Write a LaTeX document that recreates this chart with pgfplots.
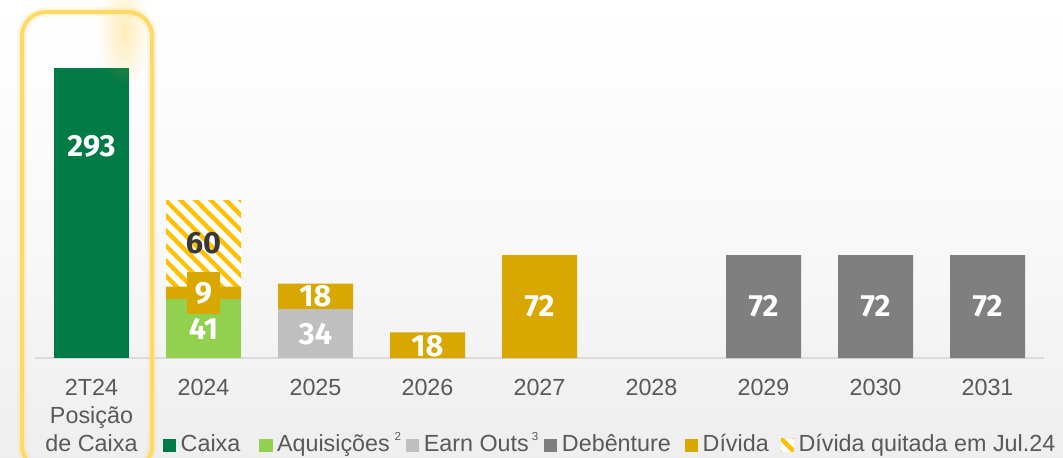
\documentclass[border=0pt]{standalone}
\usepackage{pgfplots}
\pgfplotsset{compat=1.18}
\usepackage{pgfplotstable}
\usepackage{fontspec}
\setmainfont{Liberation Sans}
\newfontfamily\valfont{Fira Sans}
\usetikzlibrary{patterns.meta,fadings}

\definecolor{caixa}{HTML}{007A47}
\definecolor{aquis}{HTML}{92D050}
\definecolor{earn}{HTML}{BFBFBF}
\definecolor{deb}{HTML}{7F7F7F}
\definecolor{divida}{HTML}{D9A800}
\definecolor{hatch}{HTML}{FFC000}
\definecolor{txt}{HTML}{595959}
\definecolor{moldura}{HTML}{FFD966}

\tikzfading[name=brilho, inner color=transparent!0, outer color=transparent!100]

% barra de caixa (293) aparece truncada no original: altura visual ~203
\pgfplotstableread{
x caixa aquis earn deb div quit
0 203 0 0 0 0 0
1 0 41 0 0 9 60
2 0 0 34 0 18 0
3 0 0 0 0 18 0
4 0 0 0 0 72 0
5 0 0 0 0 0 0
6 0 0 0 72 0 0
7 0 0 0 72 0 0
8 0 0 0 72 0 0
}\dados

\newcommand\nota[1]{\raisebox{8.8pt}{\fontsize{8.7}{9}\selectfont #1}}

\begin{document}
\begin{tikzpicture}
\clip (-68.625pt,-74.25pt) rectangle (728.625pt,268.5pt);
\shade[top color=white, bottom color=gray!13, middle color=gray!5]
  (-68.625pt,-74.25pt) rectangle (728.625pt,268.5pt);

\begin{axis}[
  anchor=origin,
  x=84pt, y=1.0725pt,
  xmin=-0.5, xmax=8.5,
  ymin=0, ymax=250,
  ybar stacked, bar width=56.25pt,
  axis x line*=bottom,
  hide y axis,
  x axis line style={draw=gray!28, line width=1.5pt},
  xtick={0,...,8},
  xticklabels={{2T24\\Posição\\de Caixa},2024,2025,2026,2027,2028,2029,2030,2031},
  xticklabel style={align=center, anchor=north, inner sep=0pt, yshift=-16pt,
    font=\fontsize{17.5}{21}\selectfont, text=txt},
  major tick length=0pt,
  clip=false,
  legend columns=-1,
  legend image code/.code={\fill[#1] (0pt,-4.5pt) rectangle (9.9pt,5.5pt);},
  legend style={at={(axis description cs:0.1262,-0.246)}, anchor=west,
    draw=none, fill=none, inner sep=0pt,
    font=\fontsize{17.5}{21}\selectfont, text=txt,
    nodes={inner xsep=0pt, inner ysep=0pt, text height=13pt, text depth=4pt},
    /tikz/every odd column/.append style={column sep=3.4pt},
    /tikz/every even column/.append style={column sep=0pt}},
]
\addplot[fill=caixa, draw=none] table[x=x, y=caixa]{\dados};
\addlegendentry{Caixa\hspace*{14.2pt}}
\addplot[fill=aquis, draw=none] table[x=x, y=aquis]{\dados};
\addlegendentry{Aquisições\hspace*{3.5pt}\nota{2}\hspace*{3.8pt}}
\addplot[fill=earn, draw=none] table[x=x, y=earn]{\dados};
\addlegendentry{Earn Outs\hspace*{2.2pt}\nota{3}\hspace*{4.5pt}}
\addplot[fill=deb, draw=none] table[x=x, y=deb]{\dados};
\addlegendentry{Debênture\hspace*{10.5pt}}
\addplot[fill=divida, draw=none] table[x=x, y=div]{\dados};
\addlegendentry{Dívida\hspace*{9pt}}
\addplot[draw=none, preaction={fill=white},
  pattern={Lines[angle=-45, distance=8pt, line width=3.3pt]}, pattern color=hatch]
  table[x=x, y=quit]{\dados};
\addlegendentry{Dívida quitada em Jul.24}
\end{axis}

% rotulos de valor, no mesmo sistema (1px = 0.75pt, origem no eixo)
\begin{scope}[every node/.style={font=\valfont\bfseries\fontsize{23}{23}\selectfont,
    text=white, inner sep=0pt}]
\node at (0pt,158.7pt) {293};
\node[text=black!78] at (84pt,85.8pt) {60};
\node[fill=divida, minimum width=25pt, minimum height=31.5pt] at (84pt,48.8pt) {9};
\node at (84pt,21.5pt) {41};
\node at (168pt,18.2pt) {34};
\node at (168pt,46.1pt) {18};
\node at (252pt,8.6pt) {18};
\node at (336pt,38.6pt) {72};
\node at (504pt,38.6pt) {72};
\node at (588pt,38.6pt) {72};
\node at (672pt,38.6pt) {72};
\end{scope}

% brilho e moldura destacando a posicao de caixa
\fill[hatch, opacity=0.28, path fading=brilho] (24pt,245pt) ellipse (20pt and 42pt);
\draw[moldura, line width=7pt, opacity=0.2, rounded corners=18pt]
  (-52.1pt,-84pt) rectangle (45.4pt,259.5pt);
\draw[moldura, line width=3pt, rounded corners=18pt]
  (-52.1pt,-84pt) rectangle (45.4pt,259.5pt);
\end{tikzpicture}
\end{document}
